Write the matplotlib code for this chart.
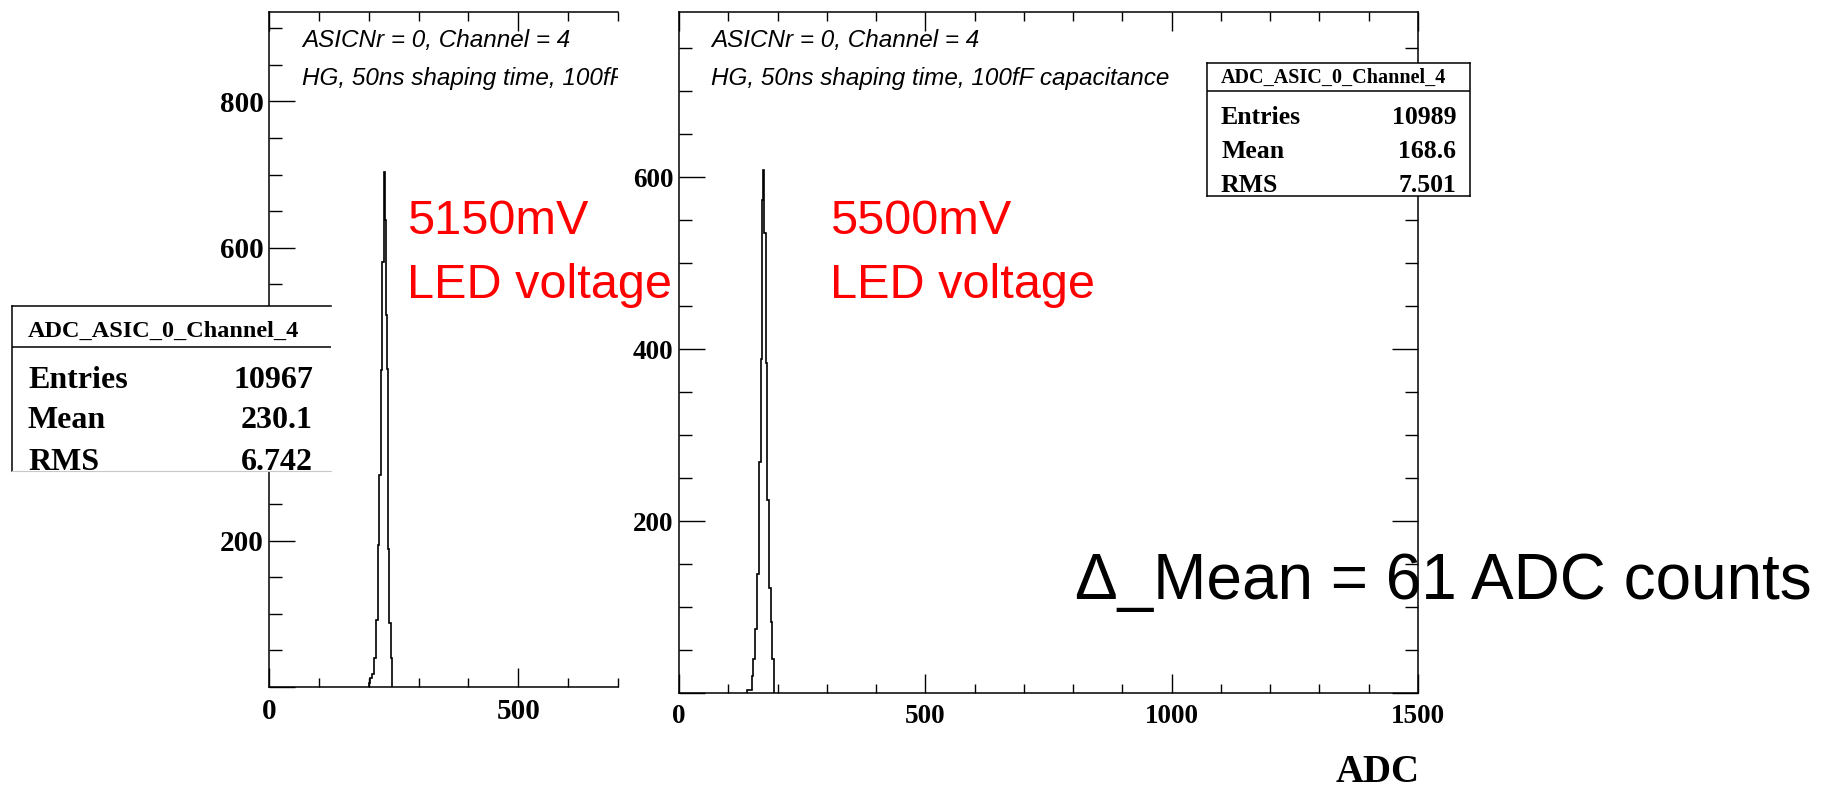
import matplotlib
matplotlib.use('Agg')
import matplotlib.pyplot as plt
from matplotlib.ticker import MultipleLocator

# histogram outlines (ADC bin edges, counts)
left_edges = [200, 203.5, 207.5, 211.5, 214.9, 218.2, 220.9, 224.2, 227.6,
              231.6, 232.9, 234.3, 237.6, 239.6, 241.6, 244.3, 247.6]
left_counts = [6, 12, 18, 39, 91, 194, 289, 433, 580, 704, 638, 508, 435,
               188, 88, 39]

right_edges = [137.5, 147.5, 150.9, 154.3, 157.6, 161.7, 165.8, 168.5, 169.8,
               172.5, 173.2, 176.6, 179.3, 182.7, 186.1, 189.5, 192.8]
right_counts = [4, 20, 39, 74, 138, 269, 388, 573, 608, 575, 535, 384, 225,
                122, 82, 39]

stat_names = ["Entries", "Mean", "RMS"]
left_stats = ["10967", "230.1", "6.742"]
right_stats = ["10989", "168.6", "7.501"]
hist_name = "ADC_ASIC_0_Channel_4"
info_lines = ["ASICNr = 0, Channel = 4", "HG, 50ns shaping time, 100fF capacitance"]
# the left canvas is cropped, only this much of the second line shows
info_lines_cut = ["ASICNr = 0, Channel = 4", "HG, 50ns shaping time, 100fF"]

W, H = 1825, 794
fig = plt.figure(figsize=(W / 100, H / 100), dpi=100)
fig.patch.set_facecolor('white')

SERIF = 'Liberation Serif'
SANS = 'Liberation Sans'


def px_axes(x0, y0, x1, y1):
    return fig.add_axes([x0 / W, 1 - y1 / H, (x1 - x0) / W, (y1 - y0) / H])


def root_style(ax, xmax, ymax, xmajor, yticks, ylabels, right=True, lsize=20):
    ax.set_xlim(0, xmax)
    ax.set_ylim(0, ymax)
    for s in ax.spines.values():
        s.set_linewidth(1.1)
    ax.spines['right'].set_visible(right)
    ax.set_xticks(xmajor, labels=[str(v) for v in xmajor], fontfamily=SERIF,
                  fontweight='bold', fontsize=lsize)
    ax.set_yticks(yticks, labels=ylabels, fontfamily=SERIF,
                  fontweight='bold', fontsize=lsize)
    ax.xaxis.set_minor_locator(MultipleLocator(100))
    ax.yaxis.set_minor_locator(MultipleLocator(50))
    ax.tick_params(axis='both', which='both', direction='in', top=True, right=right)
    ax.tick_params(axis='x', which='major', length=13.5, width=1, pad=8)
    ax.tick_params(axis='x', which='minor', length=6.5, width=1)
    ax.tick_params(axis='y', which='major', length=18.5, width=1, pad=4)
    ax.tick_params(axis='y', which='minor', length=9.5, width=1)


def info_text(ax, lines, x_px, ax_x0, ax_w, ax_y1, ax_h):
    for txt, y in zip(lines, [40, 78]):
        ax.text((x_px - ax_x0) / ax_w, (ax_y1 - y) / ax_h, txt, transform=ax.transAxes,
                fontfamily=SANS, fontstyle='italic', fontsize=17.5, ha='left',
                va='center', clip_on=True)


# left canvas (cropped at ADC 700); the 400 label sits under the stats box
ax1 = px_axes(269, 12, 618, 687)
ax1.stairs(left_counts, left_edges, color='black', lw=1.2)
root_style(ax1, 700, 922, [0, 500], [0, 200, 400, 600, 800],
           ['', '200', '', '600', '800'], right=False, lsize=21)
info_text(ax1, info_lines_cut, 302, 269, 349, 687, 675)

# right canvas
ax2 = px_axes(679, 12, 1418, 693)
ax2.stairs(right_counts, right_edges, color='black', lw=1.2)
root_style(ax2, 1500, 792, [0, 500, 1000, 1500], [0, 200, 400, 600],
           ['', '200', '400', '600'], lsize=19.5)
info_text(ax2, info_lines, 711, 679, 739, 693, 681)


def stats_box(x0, y0, x1, y1, line_y, head_y, row_ys, tx, vx, values,
              hsize, rsize, open_right=False):
    bx = px_axes(x0, y0, x1, y1)
    bx.set_zorder(5)
    bx.set_xlim(0, 1)
    bx.set_ylim(0, 1)
    bx.set_xticks([])
    bx.set_yticks([])
    for s in bx.spines.values():
        s.set_linewidth(1.1)
    if open_right:
        bx.spines['right'].set_visible(False)
        bx.spines['bottom'].set_color('#c8c8c8')
        bx.spines['bottom'].set_linewidth(0.8)
    h = y1 - y0
    w = x1 - x0
    fy = lambda y: (y1 - y) / h
    bx.axhline(fy(line_y), color='black', lw=1.1)
    bx.text((tx - x0) / w, fy(head_y), hist_name, fontfamily=SERIF,
            fontweight='bold', fontsize=hsize, va='center', ha='left', clip_on=True)
    for name, val, y in zip(stat_names, values, row_ys):
        bx.text((tx - x0) / w, fy(y), name, fontfamily=SERIF, fontweight='bold',
                fontsize=rsize, va='center', ha='left', clip_on=True)
        bx.text((vx - x0) / w, fy(y), val, fontfamily=SERIF, fontweight='bold',
                fontsize=rsize, va='center', ha='right', clip_on=True)


stats_box(12, 306, 331, 471, 347, 331, [380, 421, 462], 28, 313, left_stats,
          17.5, 23, open_right=True)
stats_box(1207, 63, 1470, 196, 91, 78, [118, 151, 186], 1221, 1456, right_stats,
          14.5, 18.5)

# slide annotations
fig.text(407 / W, 1 - 222 / H, "5150mV", color='red', fontfamily=SANS,
         fontsize=35, ha='left', va='center')
fig.text(407 / W, 1 - 285 / H, "LED voltage", color='red', fontfamily=SANS,
         fontsize=35, ha='left', va='center')
fig.text(830 / W, 1 - 222 / H, "5500mV", color='red', fontfamily=SANS,
         fontsize=35, ha='left', va='center')
fig.text(830 / W, 1 - 285 / H, "LED voltage", color='red', fontfamily=SANS,
         fontsize=35, ha='left', va='center')
fig.text(1812 / W, 1 - 582 / H, "\u0394_Mean = 61 ADC counts", color='black',
         fontfamily=SANS, fontsize=46, ha='right', va='center')
fig.text(1420 / W, 1 - 772 / H, "ADC", fontfamily=SERIF, fontweight='bold',
         fontsize=28, ha='right', va='center')

fig.savefig('out.png', dpi=100, facecolor='white')
